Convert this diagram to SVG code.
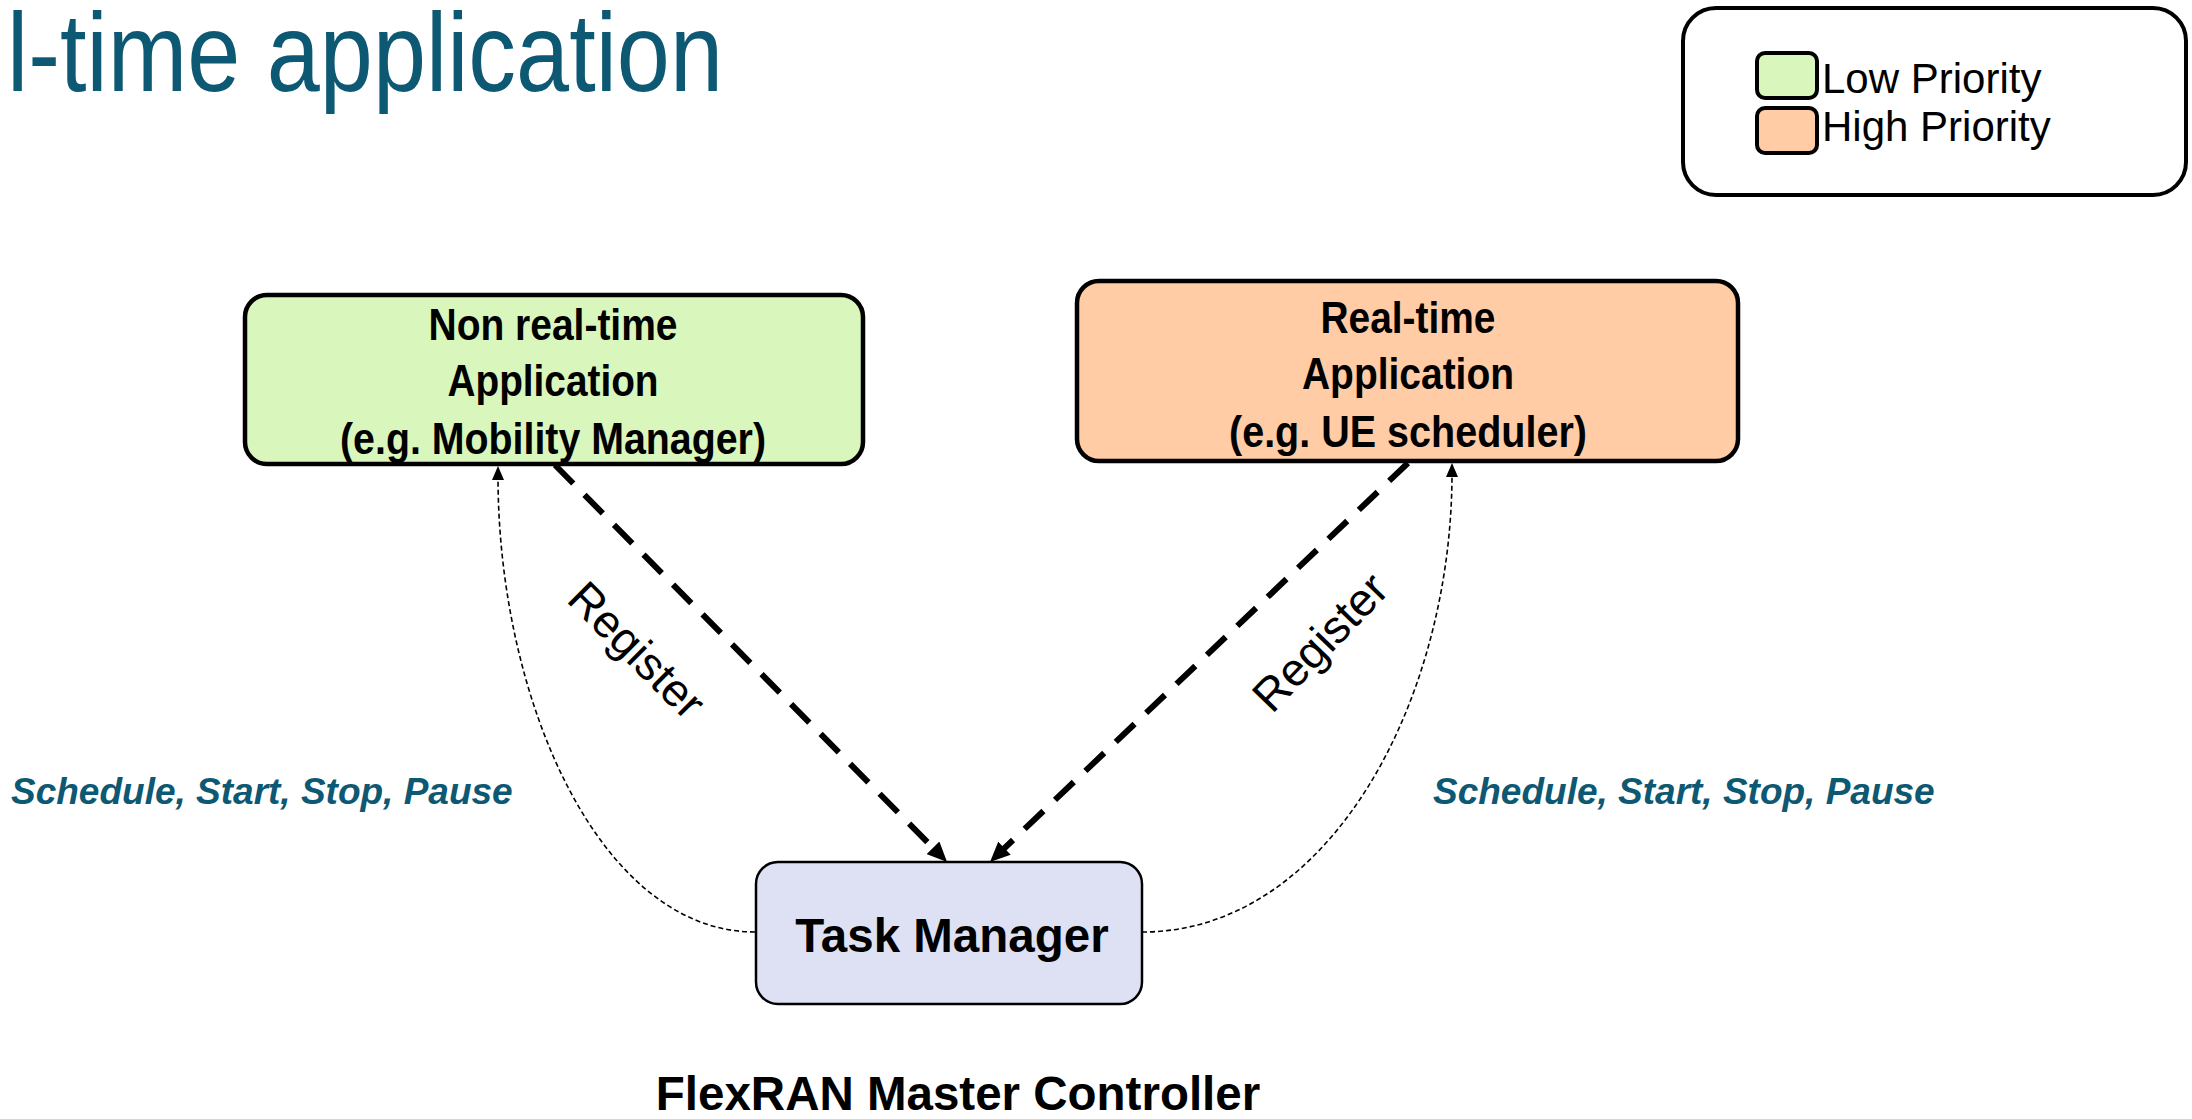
<svg xmlns="http://www.w3.org/2000/svg" width="2192" height="1119" viewBox="0 0 2192 1119">
<style>
.title{font-family:"Liberation Sans",Arial,sans-serif;font-size:112px;fill:#0d5872}
.legtxt{font-family:"Liberation Sans",Arial,sans-serif;font-size:42px;fill:#000}
.box{stroke:#000;stroke-width:4.5}
.btxt{font-family:"Liberation Sans",Arial,sans-serif;font-weight:bold;font-size:45px;fill:#000;text-anchor:middle}
.tm{font-family:"Liberation Sans",Arial,sans-serif;font-weight:bold;font-size:47.5px;fill:#000;text-anchor:middle}
.reg{font-family:"Liberation Sans",Arial,sans-serif;font-size:46px;fill:#000;text-anchor:middle;dominant-baseline:central}
.cmd{font-family:"Liberation Sans",Arial,sans-serif;font-weight:bold;font-style:italic;font-size:37px;fill:#0d5872}
.thick{fill:none;stroke:#000;stroke-width:6;stroke-dasharray:26 16}
.thin{fill:none;stroke:#000;stroke-width:1.6;stroke-dasharray:5 3}
</style>
<defs>
<marker id="ah" markerUnits="userSpaceOnUse" markerWidth="22" markerHeight="18" refX="8" refY="9" orient="auto" viewBox="0 0 22 18">
<path d="M0,0 L20,9 L0,18 z" fill="#000"/>
</marker>
<marker id="ahs" markerUnits="userSpaceOnUse" markerWidth="16" markerHeight="12" refX="4" refY="6" orient="auto" viewBox="0 0 16 12">
<path d="M0,0 L14,6 L0,12 z" fill="#000"/>
</marker>
</defs>
<rect width="2192" height="1119" fill="#fff"/>
<text class="title" x="7" y="91" textLength="716" lengthAdjust="spacingAndGlyphs">l-time application</text>
<g id="legend">
<rect x="1683" y="8" width="503" height="187" rx="33" fill="#fff" stroke="#000" stroke-width="4"/>
<rect x="1757" y="53" width="60" height="45" rx="8" fill="#d9f6bc" stroke="#000" stroke-width="4"/>
<rect x="1757" y="108" width="60" height="45" rx="8" fill="#ffcca6" stroke="#000" stroke-width="4"/>
<text class="legtxt" x="1822" y="93">Low Priority</text>
<text class="legtxt" x="1822" y="141">High Priority</text>
</g>
<g id="connectors">
<path class="thick" d="M555,465 L938.6,853.5" marker-end="url(#ah)"/>
<path class="thick" d="M1408,463 L998.7,853.7" marker-end="url(#ah)"/>
<path class="thin" d="M755,932 C600,932 498,700 498,476" marker-end="url(#ahs)"/>
<path class="thin" d="M1142,932 C1330,932 1452,700 1452,473" marker-end="url(#ahs)"/>
<text class="reg" transform="translate(637,650) rotate(45)">Register</text>
<text class="reg" transform="translate(1320,642) rotate(-46)">Register</text>
<text class="cmd" x="11" y="804">Schedule, Start, Stop, Pause</text>
<text class="cmd" x="1433" y="804">Schedule, Start, Stop, Pause</text>
</g>
<g id="nonrt">
<rect class="box" x="245" y="295" width="618" height="169" rx="22" fill="#d9f6bc"/>
<text class="btxt" x="553" y="340" textLength="249" lengthAdjust="spacingAndGlyphs">Non real-time</text>
<text class="btxt" x="553" y="396" textLength="211" lengthAdjust="spacingAndGlyphs">Application</text>
<text class="btxt" x="553" y="454" textLength="426" lengthAdjust="spacingAndGlyphs">(e.g. Mobility Manager)</text>
</g>
<g id="rt">
<rect class="box" x="1077" y="281" width="661" height="180" rx="22" fill="#ffcca6"/>
<text class="btxt" x="1408" y="333" textLength="175" lengthAdjust="spacingAndGlyphs">Real-time</text>
<text class="btxt" x="1408" y="389" textLength="212" lengthAdjust="spacingAndGlyphs">Application</text>
<text class="btxt" x="1408" y="447" textLength="358" lengthAdjust="spacingAndGlyphs">(e.g. UE scheduler)</text>
</g>
<g id="taskmanager">
<rect x="756" y="862" width="386" height="142" rx="22" fill="#dde1f3" stroke="#000" stroke-width="2.5"/>
<text class="tm" x="952" y="952">Task Manager</text>
</g>
<g id="label">
<text class="tm" x="958" y="1110">FlexRAN Master Controller</text>
</g>
</svg>
